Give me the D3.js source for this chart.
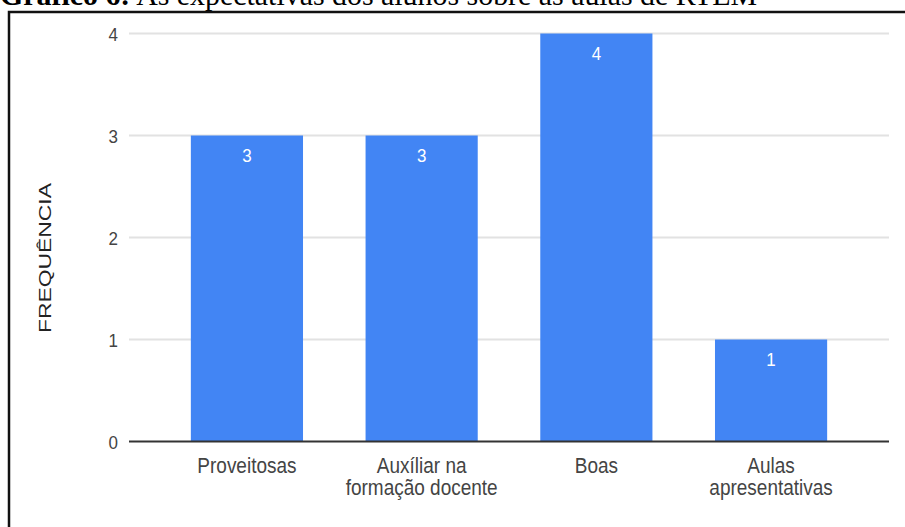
<!DOCTYPE html>
<html>
<head>
<meta charset="utf-8">
<script src="https://cdn.jsdelivr.net/npm/d3@7"></script>
<style>
  html, body { margin: 0; padding: 0; background: #fff; overflow: hidden; }
  svg { display: block; }
</style>
</head>
<body>
<div id="chart"></div>
<script>
const categories = [
  ['Proveitosas'],
  ['Auxíliar na', 'formação docente'],
  ['Boas'],
  ['Aulas', 'apresentativas'],
];
const frequencies = [3, 3, 4, 1];
const yTicks = [0, 1, 2, 3, 4];

const width = 905;
const height = 527;

const svg = d3
  .select('#chart')
  .append('svg')
  .attr('width', width)
  .attr('height', height);

// title of the figure, cut off at the top in the original
const title = svg
  .append('text')
  .attr('x', 0)
  .attr('y', 5)
  .attr('textLength', 757)
  .attr('lengthAdjust', 'spacingAndGlyphs')
  .style('font-family', '"Liberation Serif", "Times New Roman", serif')
  .style('font-size', '30px')
  .attr('fill', '#000');
title.append('tspan').style('font-weight', 'bold').text('Gráfico 6:');
title.append('tspan').text(' As expectativas dos alunos sobre as aulas de RTEM');

// frame around the chart
svg
  .append('rect')
  .attr('x', 9)
  .attr('y', 12)
  .attr('width', 1000)
  .attr('height', 1000)
  .attr('fill', 'none')
  .attr('stroke', '#111')
  .attr('stroke-width', 2.5);

const x = d3
  .scaleBand()
  .domain(d3.range(categories.length))
  .range([129, 889])
  .paddingInner(0.358)
  .paddingOuter(0.354);

const y = d3.scaleLinear().domain([0, 4]).range([441.5, 33.5]);

const font = 'Arial, "Liberation Sans", Helvetica, sans-serif';
const stretch = 1.12;

// gridlines
svg
  .append('g')
  .selectAll('line')
  .data(yTicks.filter((d) => d > 0))
  .join('line')
  .attr('x1', 129)
  .attr('x2', 889)
  .attr('y1', (d) => y(d))
  .attr('y2', (d) => y(d))
  .attr('stroke', '#e2e2e2')
  .attr('stroke-width', 2);

// y tick labels
svg
  .append('g')
  .selectAll('text')
  .data(yTicks)
  .join('text')
  .attr('transform', (d) => `translate(118, ${y(d) + 7}) scale(1, ${stretch})`)
  .attr('text-anchor', 'end')
  .style('font-family', font)
  .style('font-size', '17px')
  .attr('fill', '#444')
  .text((d) => d);

// bars
svg
  .append('g')
  .selectAll('rect')
  .data(frequencies)
  .join('rect')
  .attr('x', (d, i) => x(i))
  .attr('y', (d) => y(d))
  .attr('width', x.bandwidth())
  .attr('height', (d) => y(0) - y(d))
  .attr('fill', '#4285f4');

// zero line
svg
  .append('line')
  .attr('x1', 129)
  .attr('x2', 889)
  .attr('y1', y(0))
  .attr('y2', y(0))
  .attr('stroke', '#333')
  .attr('stroke-width', 2);

// value labels inside the bars
svg
  .append('g')
  .selectAll('text')
  .data(frequencies)
  .join('text')
  .attr(
    'transform',
    (d, i) => `translate(${x(i) + x.bandwidth() / 2}, ${y(d) + 26}) scale(1, ${stretch})`
  )
  .attr('text-anchor', 'middle')
  .style('font-family', font)
  .style('font-size', '17px')
  .attr('fill', '#fff')
  .text((d) => d);

// category labels
const catGroups = svg
  .append('g')
  .selectAll('g')
  .data(categories)
  .join('g')
  .attr('transform', (d, i) => `translate(${x(i) + x.bandwidth() / 2}, 473)`);

catGroups
  .selectAll('text')
  .data((d) => d)
  .join('text')
  .attr('transform', (d, j) => `translate(0, ${j * 22}) scale(1, ${stretch})`)
  .attr('text-anchor', 'middle')
  .style('font-family', font)
  .style('font-size', '19px')
  .attr('fill', '#444')
  .text((d) => d);

// y axis title
svg
  .append('text')
  .attr('transform', 'translate(51, 258) rotate(-90)')
  .attr('text-anchor', 'middle')
  .attr('textLength', 150)
  .attr('lengthAdjust', 'spacingAndGlyphs')
  .style('font-family', font)
  .style('font-size', '16px')
  .attr('fill', '#222')
  .text('FREQUÊNCIA');
</script>
</body>
</html>
